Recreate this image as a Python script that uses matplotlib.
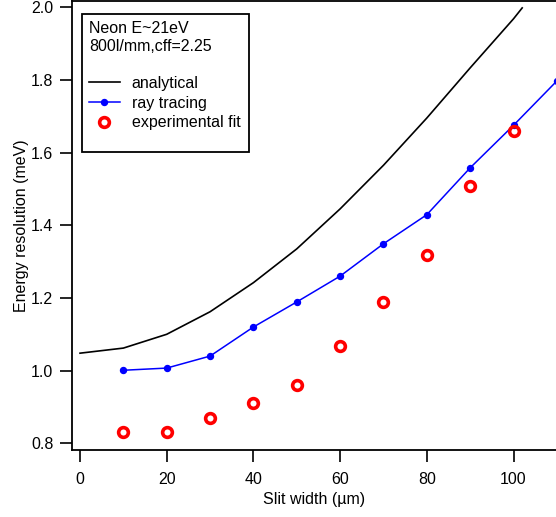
import matplotlib
matplotlib.use("Agg")
import matplotlib.pyplot as plt
from matplotlib.patches import Rectangle

plt.rcParams['font.family'] = ['Liberation Sans', 'DejaVu Sans']

# analytical curve
x_analytical = [0, 10, 20, 30, 40, 50, 60, 70, 80, 90, 100, 102]
y_analytical = [1.048, 1.062, 1.100, 1.162, 1.242, 1.335, 1.445, 1.565, 1.695, 1.833, 1.968, 1.998]

# ray tracing
x_ray = [10, 20, 30, 40, 50, 60, 70, 80, 90, 100, 110]
y_ray = [1.001, 1.007, 1.040, 1.120, 1.189, 1.260, 1.349, 1.429, 1.558, 1.675, 1.797]

# experimental fit
x_exp = [10, 20, 30, 40, 50, 60, 70, 80, 90, 100]
y_exp = [0.830, 0.830, 0.871, 0.910, 0.960, 1.069, 1.189, 1.318, 1.508, 1.659]

x_ticks = [0, 20, 40, 60, 80, 100]
y_ticks = [0.8, 1.0, 1.2, 1.4, 1.6, 1.8, 2.0]

fs = 11.5

fig = plt.figure(figsize=(5.56, 5.17), dpi=100)
ax = fig.add_axes([72 / 556, 67 / 517, 484 / 556, 449 / 517])

ax.plot(x_analytical, y_analytical, color='black', lw=1.2, label='analytical')
ax.plot(x_ray, y_ray, color='blue', lw=1.1, marker='o', markersize=4.3,
        label='ray tracing')
ax.plot(x_exp, y_exp, ls='none', marker='o', markersize=7, markerfacecolor='none',
        markeredgecolor='red', markeredgewidth=2.6, label='experimental fit')

ax.set_xlim(-1.85, 109.8)
ax.set_ylim(0.7816, 2.017)
ax.set_xticks(x_ticks)
ax.set_yticks(y_ticks)
ax.set_xticklabels([str(v) for v in x_ticks])
ax.set_yticklabels(['%.1f' % v for v in y_ticks])

for s in ax.spines.values():
    s.set_linewidth(1.3)
ax.spines['right'].set_visible(False)

ax.tick_params(direction='out', length=8.5, width=1.2, labelsize=fs)
ax.tick_params(axis='x', pad=7)
ax.tick_params(axis='y', pad=5)

ax.set_xlabel('Slit width (\u00b5m)', fontsize=fs, labelpad=4)
ax.set_ylabel('Energy resolution (meV)', fontsize=fs, labelpad=1.5)

# legend box drawn separately (it has extra room at the bottom)
box = Rectangle((10 / 484, (450 - 152) / 449), 167 / 484, 138 / 449,
                transform=ax.transAxes, facecolor='white', edgecolor='black',
                linewidth=1.3, zorder=4.5)
ax.add_patch(box)

leg = ax.legend(title='Neon E~21eV\n800l/mm,cff=2.25\n', loc='upper left',
                bbox_to_anchor=(10 / 484, 1 - 13 / 449), borderaxespad=0,
                fontsize=fs, title_fontsize=fs, alignment='left',
                frameon=False,
                handlelength=1.9, handletextpad=0.75, labelspacing=0.3,
                borderpad=0.45)

fig.savefig('out.png', dpi=100)
